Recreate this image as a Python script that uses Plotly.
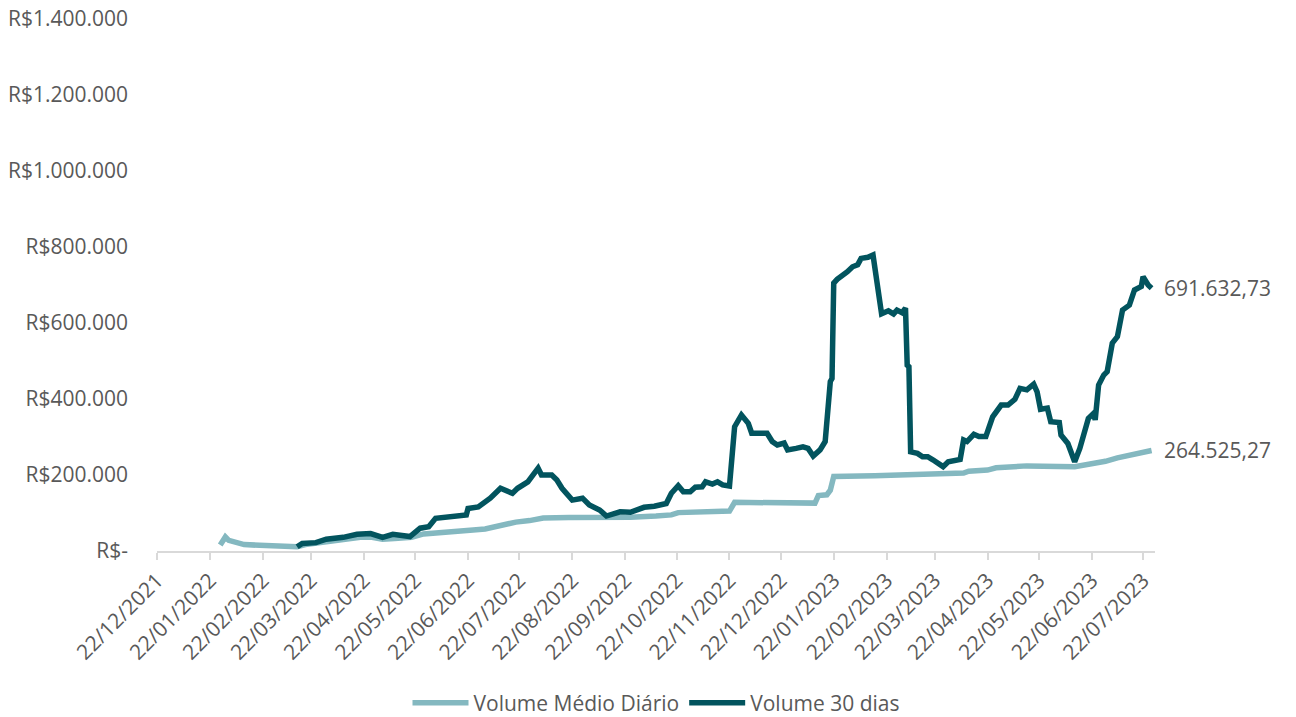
import plotly.graph_objects as go
from datetime import datetime

# ---- data ----
media_dates = ["2022-01-28","2022-01-31","2022-02-02","2022-02-05","2022-02-11","2022-02-20",
               "2022-03-04","2022-03-14","2022-03-20","2022-03-31","2022-04-10","2022-04-20",
               "2022-04-26","2022-05-03","2022-05-10","2022-05-20","2022-05-27","2022-06-05",
               "2022-06-20","2022-06-25","2022-07-02","2022-07-12","2022-07-20","2022-07-28",
               "2022-08-05","2022-08-20","2022-09-10","2022-09-25","2022-10-10","2022-10-19",
               "2022-10-23","2022-11-05","2022-11-22","2022-11-25","2022-12-10","2022-12-31",
               "2023-01-11","2023-01-13","2023-01-18","2023-01-20","2023-01-21","2023-01-22",
               "2023-02-15","2023-03-08","2023-03-25","2023-04-08","2023-04-11","2023-04-22",
               "2023-04-27","2023-05-15","2023-06-12","2023-06-20","2023-06-30","2023-07-07",
               "2023-07-14","2023-07-22","2023-07-27"]
media_values = [16000,37000,28000,24000,17000,15000,
                14000,11000,18000,25000,30000,36000,
                37000,31000,33000,36000,45000,48000,
                50000,55000,58000,70000,76000,80000,
                87000,88000,88000,89000,92000,95000,
                101000,103000,105000,128000,128000,125000,
                126000,146000,148000,160000,175000,196000,
                198000,202000,204000,205000,210000,213000,
                219000,224000,222000,228000,236000,245000,
                252000,258000,264525.27]

vol30_dates = ["2022-03-14","2022-03-17","2022-03-25","2022-03-31","2022-04-10","2022-04-18",
               "2022-04-26","2022-05-03","2022-05-09","2022-05-19","2022-05-25","2022-05-30",
               "2022-06-03","2022-06-13","2022-06-21","2022-06-22","2022-06-28","2022-07-05",
               "2022-07-11","2022-07-18","2022-07-21","2022-07-27","2022-08-02","2022-08-04",
               "2022-08-10","2022-08-13","2022-08-16","2022-08-22","2022-08-28","2022-09-01",
               "2022-09-07","2022-09-11","2022-09-15","2022-09-19","2022-09-25","2022-10-03",
               "2022-10-09","2022-10-16","2022-10-19","2022-10-23","2022-10-26","2022-10-30",
               "2022-11-02","2022-11-06","2022-11-08","2022-11-12","2022-11-15","2022-11-18",
               "2022-11-22","2022-11-25","2022-11-29","2022-12-03","2022-12-05","2022-12-14",
               "2022-12-17","2022-12-20","2022-12-24","2022-12-26","2022-12-31","2023-01-04",
               "2023-01-07","2023-01-10","2023-01-14","2023-01-17","2023-01-20","2023-01-21",
               "2023-01-22","2023-01-24","2023-01-30","2023-02-02","2023-02-05","2023-02-07",
               "2023-02-11","2023-02-14","2023-02-19","2023-02-23","2023-02-26","2023-02-28",
               "2023-03-03","2023-03-05","2023-03-06","2023-03-07","2023-03-08","2023-03-12",
               "2023-03-15","2023-03-18","2023-03-21","2023-03-27","2023-03-30","2023-04-06",
               "2023-04-08","2023-04-10","2023-04-14","2023-04-17","2023-04-21","2023-04-25",
               "2023-04-30","2023-05-04","2023-05-08","2023-05-11","2023-05-15","2023-05-19",
               "2023-05-21","2023-05-23","2023-05-27","2023-05-29","2023-06-03","2023-06-04",
               "2023-06-08","2023-06-12","2023-06-15","2023-06-17","2023-06-20","2023-06-23",
               "2023-06-24","2023-06-26","2023-06-29","2023-07-01","2023-07-04","2023-07-07",
               "2023-07-10","2023-07-14","2023-07-17","2023-07-21","2023-07-22","2023-07-25",
               "2023-07-27"]
vol30_values = [11000,20000,22000,31000,36000,44000,
                46000,36000,44000,38000,60000,64000,
                86000,89000,95000,112000,116000,139000,
                165000,152000,165000,182000,218000,200000,
                200000,187000,165000,134000,139000,121000,
                108000,92000,97000,103000,102000,115000,
                118000,125000,152000,172000,156000,156000,
                168000,169000,182000,176000,182000,174000,
                171000,327000,358000,336000,310000,310000,
                288000,279000,284000,266000,270000,274000,
                270000,250000,266000,288000,446000,454000,
                705000,715000,735000,748000,753000,770000,
                773000,779000,624000,632000,624000,634000,
                627000,639000,489000,485000,261000,257000,
                248000,248000,240000,222000,235000,241000,
                292000,288000,307000,301000,301000,353000,
                384000,384000,399000,428000,424000,439000,
                419000,373000,376000,340000,338000,305000,
                283000,235000,270000,305000,349000,362000,
                345000,437000,463000,472000,547000,564000,
                634000,647000,687000,696000,722000,700000,
                691632.73]

series_names = ["Volume Médio Diário", "Volume 30 dias"]
end_labels = ["264.525,27", "691.632,73"]

x_tick_labels = ["22/12/2021","22/01/2022","22/02/2022","22/03/2022","22/04/2022","22/05/2022",
                 "22/06/2022","22/07/2022","22/08/2022","22/09/2022","22/10/2022","22/11/2022",
                 "22/12/2022","22/01/2023","22/02/2023","22/03/2023","22/04/2023","22/05/2023",
                 "22/06/2023","22/07/2023"]
y_tick_values = [0, 200000, 400000, 600000, 800000, 1000000, 1200000, 1400000]
y_tick_labels = ["R$-","R$200.000","R$400.000","R$600.000","R$800.000",
                 "R$1.000.000","R$1.200.000","R$1.400.000"]

# ---- figure ----
LIGHT = "#84B8C0"
DARK = "#02545E"
TXT = "#595959"
FONT = "Open Sans"
FS = 21

x_tick_vals = [datetime.strptime(s, "%d/%m/%Y").strftime("%Y-%m-%d") for s in x_tick_labels]

fig = go.Figure()
fig.add_trace(go.Scatter(x=media_dates, y=media_values, mode="lines", name=series_names[0],
                         line=dict(color=LIGHT, width=5.5)))
fig.add_trace(go.Scatter(x=vol30_dates, y=vol30_values, mode="lines", name=series_names[1],
                         line=dict(color=DARK, width=5.5)))

fig.add_annotation(x=media_dates[-1], y=media_values[-1], text=end_labels[0], showarrow=False,
                   xanchor="left", yanchor="middle", xshift=10,
                   font=dict(family=FONT, size=FS, color=TXT))
fig.add_annotation(x=vol30_dates[-1], y=vol30_values[-1], text=end_labels[1], showarrow=False,
                   xanchor="left", yanchor="middle", xshift=10,
                   font=dict(family=FONT, size=FS, color=TXT))

fig.update_layout(
    width=1296, height=717, autosize=False,
    margin=dict(l=157, r=141, t=19, b=166, autoexpand=False),
    paper_bgcolor="white", plot_bgcolor="white",
    font=dict(family=FONT, size=FS, color=TXT),
    showlegend=True,
    legend=dict(orientation="h", x=0.5, xanchor="center", xref="paper",
                y=14 / 717, yref="container", yanchor="middle",
                font=dict(family=FONT, size=FS, color=TXT),
                itemwidth=56, traceorder="normal"),
    xaxis=dict(type="date", range=["2021-12-22", "2023-07-29"], automargin=False,
               tickvals=x_tick_vals, ticktext=x_tick_labels, tickangle=-45,
               showgrid=False, zeroline=False, showline=True, linecolor="#D9D9D9", linewidth=2,
               ticks="outside", ticklen=7, tickcolor="#D9D9D9", tickwidth=2,
               tickfont=dict(family=FONT, size=FS, color=TXT)),
    yaxis=dict(range=[0, 1400000], tickvals=y_tick_values, ticktext=y_tick_labels,
               automargin=False,
               showgrid=False, zeroline=False, showline=False, ticks="",
               ticklabelstandoff=28,
               tickfont=dict(family=FONT, size=FS, color=TXT)),
)

fig.write_html("out.html", config={"displayModeBar": False},
               post_script="document.body.style.margin='0';document.body.style.overflow='hidden';")
